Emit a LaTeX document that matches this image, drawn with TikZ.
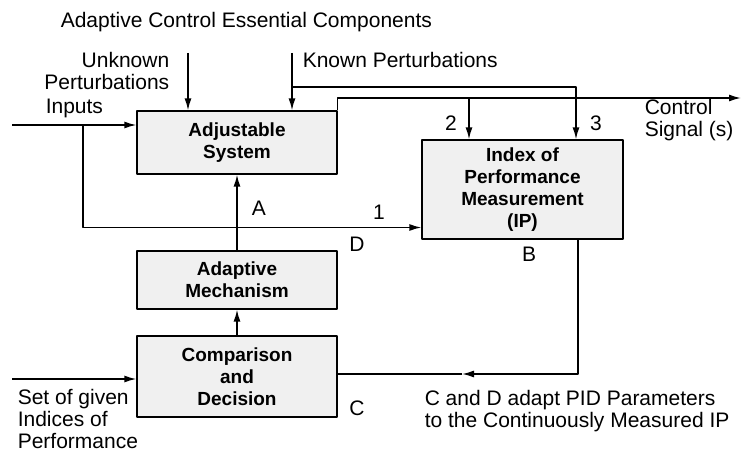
\documentclass[tikz,border=0pt]{standalone}
\usepackage{fontspec}
\setmainfont{Liberation Sans}
\usetikzlibrary{arrows.meta}
\begin{document}
\begin{tikzpicture}[x=1pt, y=-1pt, font=\fontsize{21}{22}\selectfont, line join=round, line width=1.5pt, >={Latex[length=12pt,width=7pt]},
	blk/.style={draw, line width=1.3pt, fill=black!6, align=center, font=\bfseries\fontsize{19}{22}\selectfont, minimum width=200pt, inner sep=0pt},
	lbl/.style={inner sep=0pt}]
	\useasboundingbox (0,0) rectangle (742,452);
	\node[blk, minimum height=63pt] (adj) at (237,142.5) {Adjustable\\System};
	\node[blk, minimum width=201pt, minimum height=99pt] (ip) at (522.5,189.5) {Index of\\Performance\\Measurement\\(IP)};
	\node[blk, minimum height=58pt] (mech) at (237,280) {Adaptive\\Mechanism};
	\node[blk, minimum height=81pt] (cmp) at (237,376.5) {Comparison\\and\\Decision};
	\node[lbl, anchor=west] (ttl) at (60,22) {Adaptive Control Essential Components};
	\node[lbl, anchor=east, align=right] (unk) at (170,71) {Unknown\\Perturbations};
	\node[lbl, anchor=west] (inp) at (45,108) {Inputs};
	\node[lbl, anchor=west] (knw) at (302,60) {Known Perturbations};
	\node[lbl] (n2) at (451,123) {2};
	\node[lbl] (n3) at (596,123) {3};
	\node[lbl, anchor=west, align=left] (sig) at (644,120) {Control\\Signal (s)};
	\node[lbl] (la) at (259,208) {A};
	\node[lbl] (l1) at (379,212) {1};
	\node[lbl] (ld) at (357,244) {D};
	\node[lbl] (lb) at (529,254) {B};
	\node[lbl] (lc) at (357,408) {C};
	\node[lbl, anchor=west, align=left] (set) at (17,419) {Set of given\\Indices of\\Performance};
	\node[lbl, anchor=west, align=left] (note) at (424,411) {C and D adapt PID Parameters\\to the Continuously Measured IP};
	\coordinate (inL) at (12,125);
	\coordinate (inB) at (83,125);
	\coordinate (ukT) at (188,53);
	\coordinate (kpT) at (292,53);
	\coordinate (kpB) at (292,87);
	\coordinate (k3) at (576,87);
	\coordinate (csE) at (741,98);
	\coordinate (c2) at (469,98);
	\coordinate (setL) at (12,379);
	\coordinate (fbC) at (578,374);
	\coordinate (fbM) at (462,374);
	\draw[->] (inL) -- (inL -| adj.west);
	\draw[->] (inB) |- ([yshift=-38pt]ip.west);
	\draw[->] (ukT) -- (ukT |- adj.north);
	\draw[->] (kpT) -- (kpT |- adj.north);
	\draw[->] (kpB) -| (k3 |- ip.north);
	\draw[->] (adj.north east) |- (csE);
	\draw[->] (c2) -- (c2 |- ip.north);
	\draw[->] (mech.north) -- (adj.south);
	\draw[->] (cmp.north) -- (mech.south);
	\draw[->] (setL) -- (setL -| cmp.west);
	\draw[->] (fbC |- ip.south) |- (fbM);
	\draw (fbM) -- (fbM -| cmp.east);
\end{tikzpicture}
\end{document}
